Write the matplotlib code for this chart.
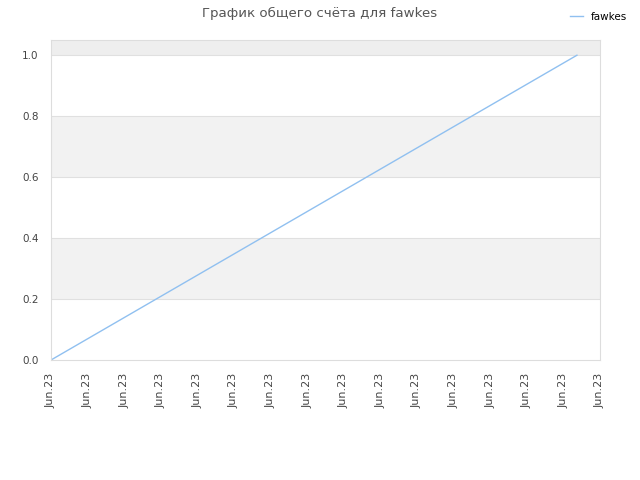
import matplotlib
matplotlib.use('Agg')
import matplotlib.pyplot as plt

# Score history for fawkes (x in tick units, all within Jun.23)
x_vals = [0.0, 14.37]
scores = [0.0, 1.0]
tick_pos = list(range(16))
tick_labels = ['Jun.23'] * 16
series_name = 'fawkes'

fig = plt.figure(figsize=(6.4, 4.8), dpi=100)
ax = fig.add_axes([0.0797, 0.25, 0.8578, 0.6667])

# alternating background bands
for lo, hi in [(0.2, 0.4), (0.6, 0.8)]:
    ax.axhspan(lo, hi, color='#f2f2f2', zorder=0, lw=0)
ax.axhspan(1.0, 1.05, color='#eeeeee', zorder=0, lw=0)
for yv in [0.2, 0.4, 0.6, 0.8, 1.0]:
    ax.axhline(yv, color='#e0e0e0', lw=0.8, zorder=1)

ax.plot(x_vals, scores, color='#90c0f0', lw=1, label=series_name, zorder=2)

ax.set_xlim(0, 15)
ax.set_ylim(0, 1.05)
ax.set_xticks(tick_pos)
ax.set_xticklabels(tick_labels, rotation=90, fontsize=8, color='#444444')
ax.set_yticks([0.0, 0.2, 0.4, 0.6, 0.8, 1.0])
ax.set_yticklabels(['0.0', '0.2', '0.4', '0.6', '0.8', '1.0'], fontsize=7.5, color='#444444')
ax.tick_params(axis='x', length=0, pad=9)
ax.tick_params(axis='y', length=0, pad=9)
for sp in ax.spines.values():
    sp.set_color('#dddddd')
    sp.set_linewidth(0.8)

fig.text(0.5, 0.972, 'График общего счёта для fawkes', ha='center', va='center',
         fontsize=9.6, color='#555555')
fig.legend(loc='upper right', bbox_to_anchor=(0.995, 0.995), frameon=False,
           fontsize=7.5, handlelength=1.2)

fig.savefig('out.png', dpi=100)
